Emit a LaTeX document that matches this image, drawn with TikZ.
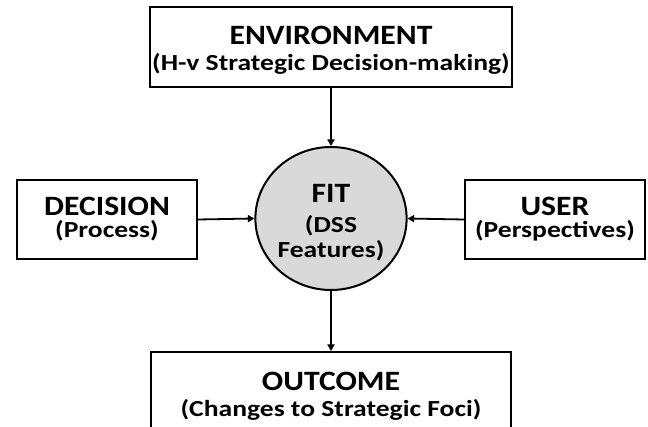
\documentclass[tikz,border=0pt]{standalone}
\usepackage{fontspec}
\setmainfont{Carlito}
\newfontfamily\fontA{Carlito}[FakeStretch=1.13]
\newfontfamily\fontB{Carlito}[FakeStretch=1.2]
\usetikzlibrary{arrows.meta,shapes.geometric}
\newcommand{\lineA}{\fontA\bfseries\fontsize{28}{24}\selectfont}
\newcommand{\lineB}{\fontB\bfseries\fontsize{23}{24}\selectfont}
\newcommand{\topstrut}[1]{\rule{0pt}{#1}}
\begin{document}
\begin{tikzpicture}[x=1pt,y=-1pt,
  box/.style={draw=black,line width=2pt,fill=white,inner sep=0pt,align=center,font=\lineB},
  conn/.style={line width=1.8pt,-{Triangle[length=6.5pt,width=7pt]}},
  fitnode/.style={ellipse,draw=black,line width=2pt,fill=black!15,inner sep=0pt,align=center,font=\lineB}
]
\useasboundingbox (0,0) rectangle (648,427);
\clip (0,0) rectangle (648,427);
\node[box,minimum width=362pt,minimum height=80pt] (env) at (331,47)
  {{\lineA\topstrut{24pt}ENVIRONMENT}\\[2pt](H-v Strategic Decision-making)};
\node[box,minimum width=180pt,minimum height=79pt] (dec) at (107,219.5)
  {{\lineA DECISION}\\[-2pt](Process)};
\node[box,minimum width=180pt,minimum height=79pt] (user) at (555,219.5)
  {{\lineA USER}\\[-2pt](Perspectives)};
\node[fitnode,minimum width=148pt,minimum height=143pt] (fit) at (331,218.5)
  {{\lineA\topstrut{26pt}FIT}\\[6pt](DSS\\[1pt]Features)};
\node[box,minimum width=360pt,minimum height=82pt] (out) at (331,393)
  {{\lineA\topstrut{24pt}OUTCOME}\\[2pt](Changes to Strategic Foci)};
\draw[conn] (env.south) -- (fit.north);
\draw[conn] (dec.east) -- (fit.west);
\draw[conn] (user.west) -- (fit.east);
\draw[conn] (fit.south) -- (out.north);
\end{tikzpicture}
\end{document}
